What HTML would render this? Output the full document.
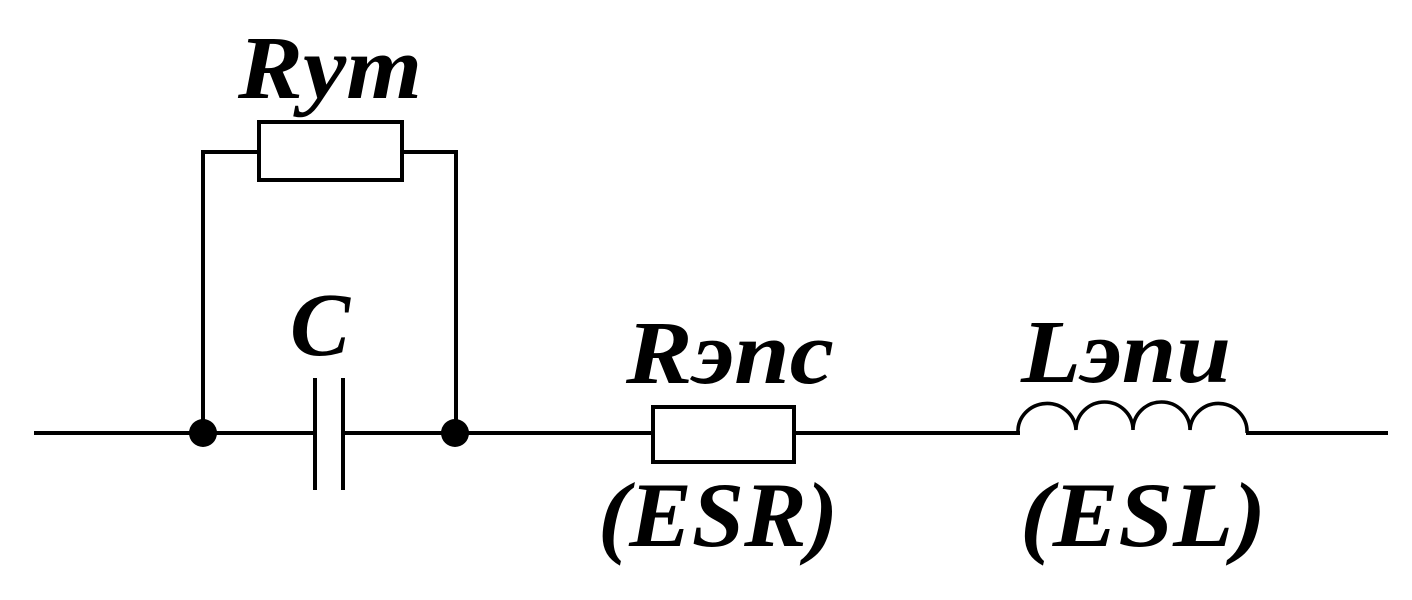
<!DOCTYPE html>
<html>
<head>
<meta charset="utf-8">
<style>
html,body{margin:0;padding:0;background:#fff;}
svg{display:block;}
text{font-family:"Liberation Serif","Times New Roman",serif;font-weight:700;font-style:italic;fill:#000;}
</style>
</head>
<body>
<svg width="1412" height="600" viewBox="0 0 1412 600" xmlns="http://www.w3.org/2000/svg">
  <g stroke="#000" stroke-width="4" fill="none" stroke-linecap="butt">
    <line x1="34" y1="433" x2="315" y2="433"/>
    <line x1="343" y1="433" x2="653" y2="433"/>
    <line x1="794" y1="433" x2="1020" y2="433"/>
    <line x1="1246" y1="433" x2="1388" y2="433"/>
    <line x1="315" y1="378" x2="315" y2="490"/>
    <line x1="343" y1="378" x2="343" y2="490"/>
    <polyline points="203,433 203,152 259,152"/>
    <polyline points="402,152 456,152 456,433"/>
    <rect x="259" y="122" width="143" height="58" fill="#fff"/>
    <rect x="653" y="407" width="141" height="55" fill="#fff"/>
    <path d="M1018,433 A29,28 0 0 1 1076,430 A28.5,28 0 0 1 1133,430 A28.5,28 0 0 1 1190,430 A28.5,28 0 0 1 1247,433" stroke-width="3.6"/>
  </g>
  <circle cx="203" cy="433" r="14" fill="#000"/>
  <circle cx="455" cy="433" r="14" fill="#000"/>
  <g font-family="Liberation Serif, serif" font-weight="bold" font-style="italic">
  <text x="238" y="98" font-size="90" textLength="184" lengthAdjust="spacingAndGlyphs">Rут</text>
  <text x="290" y="355" font-size="90">C</text>
  <text x="626" y="383" font-size="90" textLength="208" lengthAdjust="spacingAndGlyphs">Rэпс</text>
  <text x="598" y="546" font-size="92" textLength="240" lengthAdjust="spacingAndGlyphs">(ESR)</text>
  <text x="1021" y="382" font-size="90" textLength="210" lengthAdjust="spacingAndGlyphs">Lэпи</text>
  <text x="1020" y="546" font-size="92" textLength="246" lengthAdjust="spacingAndGlyphs">(ESL)</text>
  </g>
</svg>
</body>
</html>
